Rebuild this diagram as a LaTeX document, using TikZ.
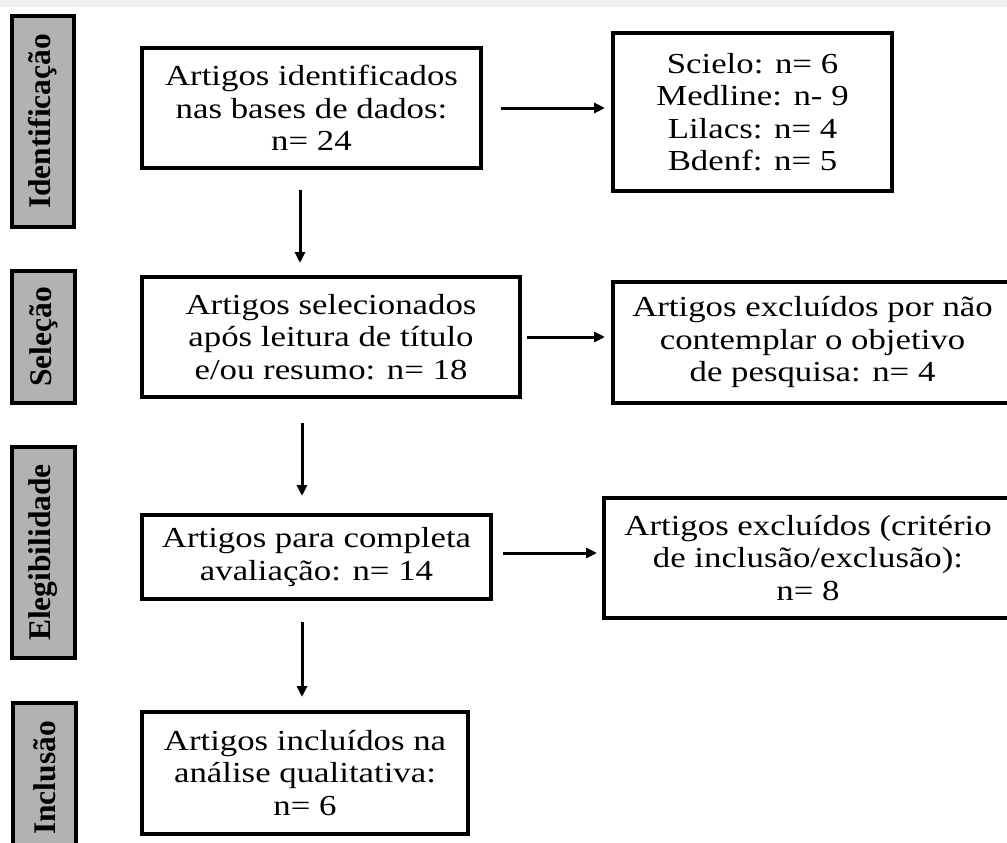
\documentclass[tikz,border=0pt]{standalone}
\usepackage{fontspec}
\setmainfont{Liberation Serif}
\newfontfamily\boxfont[FakeStretch=1.2]{Liberation Serif}
\usetikzlibrary{arrows.meta}
\begin{document}
\begin{tikzpicture}[x=1pt,y=-1pt,
  box/.style={draw=black,line width=3.4pt,fill=white,align=center,inner sep=0pt,
    font=\boxfont\fontsize{29}{32.5}\selectfont},
  side/.style={draw=black,line width=3.4pt,fill=gray!60,inner sep=0pt,rotate=90,
    font=\fontsize{31.5}{34}\selectfont\bfseries},
  flow/.style={line width=3pt,-{Triangle[length=11pt,width=10pt]}}]
\useasboundingbox (0,0) rectangle (1007,843);
\clip (0,0) rectangle (1007,843);
\fill[gray!12] (0,0) rectangle (1007,7);
% side labels (rotated: minimum width = vertical extent)
\node[side,minimum width=211,minimum height=62] (sid) at (43,121.5) {Identificação};
\node[side,minimum width=132,minimum height=63] (sse) at (43.5,337) {Seleção};
\node[side,minimum width=211,minimum height=63] (sel) at (43.5,552.5) {Elegibilidade};
\node[side,minimum width=150,minimum height=63] (sin) at (44.5,778) {Inclusão};
% main boxes
\node[box,minimum width=339,minimum height=120] (b1) at (311.5,108)
  {Artigos identificados\\nas bases de dados:\\n= 24};
\node[box,minimum width=279,minimum height=158] (s1) at (752.5,112)
  {Scielo: n= 6\\Medline: n- 9\\Lilacs: n= 4\\Bdenf: n= 5};
\node[box,minimum width=378,minimum height=120] (b2) at (331,337)
  {Artigos selecionados\\após leitura de título\\e/ou resumo: n= 18};
\node[box,minimum width=399,minimum height=121] (e1) at (812.5,342.5)
  {Artigos excluídos por não\\contemplar o objetivo\\de pesquisa: n= 4};
\node[box,minimum width=349,minimum height=84] (b3) at (316.5,557)
  {Artigos para completa\\avaliação: n= 14};
\node[box,minimum width=408,minimum height=120] (e2) at (808,558)
  {Artigos excluídos (critério\\de inclusão/exclusão):\\n= 8};
\node[box,minimum width=326,minimum height=122] (b4) at (305,773)
  {Artigos incluídos na\\análise qualitativa:\\n= 6};
% connector end points
\coordinate (h1a) at (501,108); \coordinate (h1b) at (605,108);
\coordinate (h2a) at (527,337); \coordinate (h2b) at (605,337);
\coordinate (h3a) at (503,553); \coordinate (h3b) at (597,553);
\coordinate (v1a) at (300,190); \coordinate (v1b) at (300,263);
\coordinate (v2a) at (302,423); \coordinate (v2b) at (302,496);
\coordinate (v3a) at (302,622); \coordinate (v3b) at (302,697);
\draw[flow] (h1a) -- (h1b);
\draw[flow] (h2a) -- (h2b);
\draw[flow] (h3a) -- (h3b);
\draw[flow] (v1a) -- (v1b);
\draw[flow] (v2a) -- (v2b);
\draw[flow] (v3a) -- (v3b);
\end{tikzpicture}
\end{document}
